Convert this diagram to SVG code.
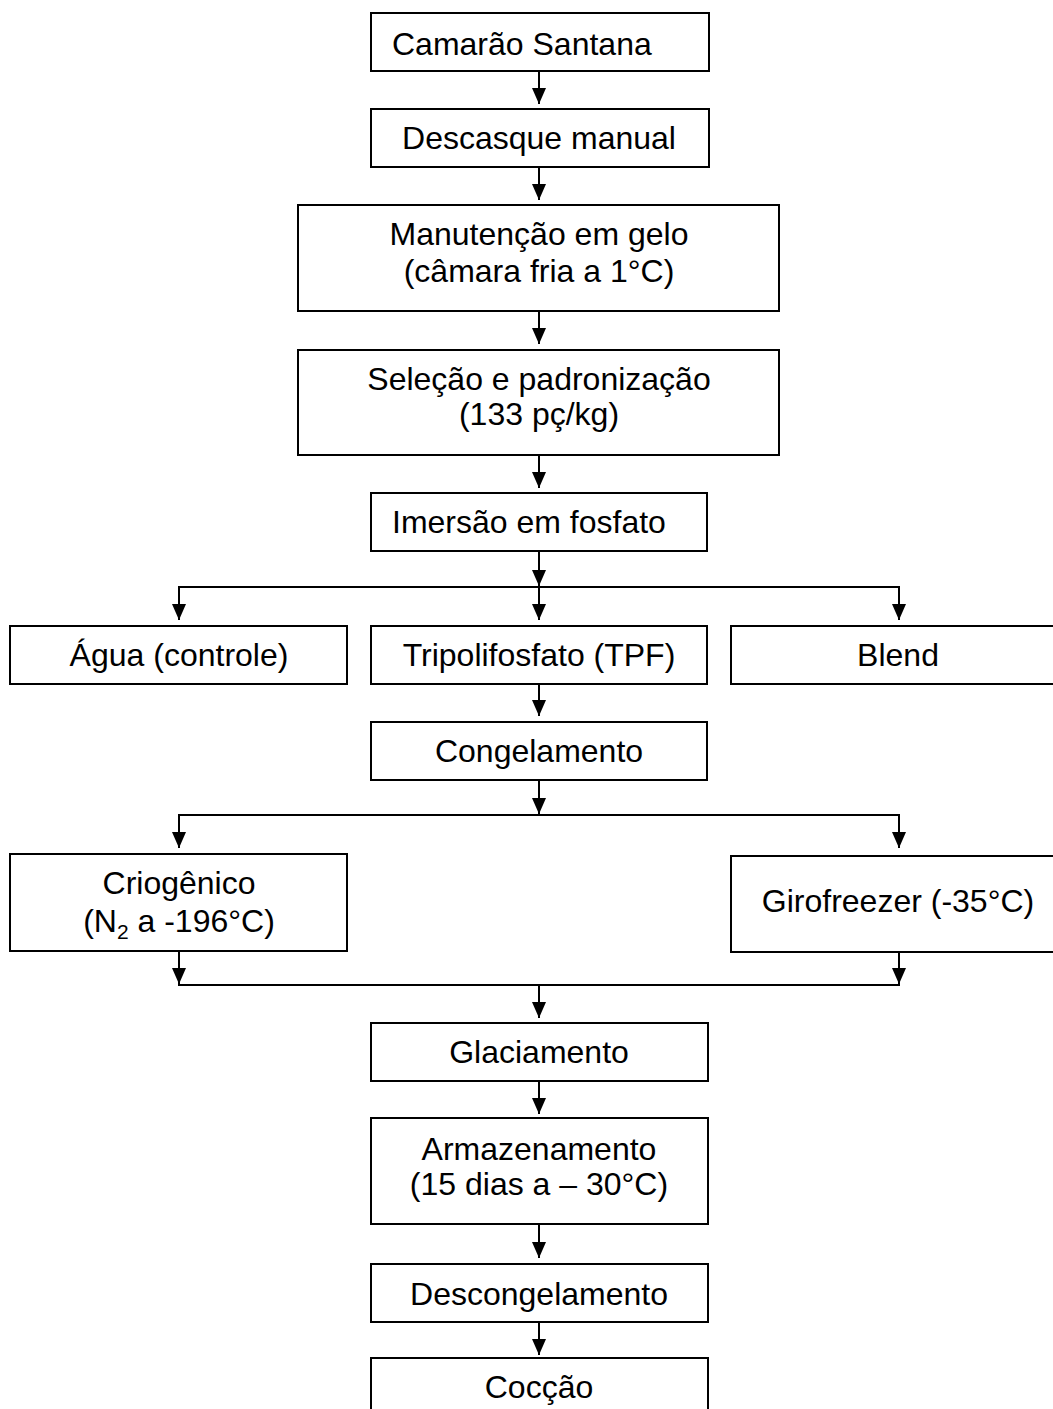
<svg xmlns="http://www.w3.org/2000/svg" width="1053" height="1409" viewBox="0 0 1053 1409">
<style>
.box{fill:#fff;stroke:#000;stroke-width:2}
.t{font-family:"Liberation Sans",Arial,sans-serif;font-size:32px;fill:#000;text-anchor:middle}
.ts{text-anchor:start}
.c{fill:none;stroke:#000;stroke-width:2}
</style>
<defs>
<marker id="ah" markerUnits="userSpaceOnUse" markerWidth="16" markerHeight="16" viewBox="0 0 16 16" refX="16" refY="8" orient="auto">
<path d="M0,1 L16,8 L0,15 Z" fill="#000"/>
</marker>
</defs>
<g id="connectors">
<line class="c" x1="539" y1="71" x2="539" y2="104" marker-end="url(#ah)"/>
<line class="c" x1="539" y1="167" x2="539" y2="200" marker-end="url(#ah)"/>
<line class="c" x1="539" y1="311" x2="539" y2="344" marker-end="url(#ah)"/>
<line class="c" x1="539" y1="455" x2="539" y2="488" marker-end="url(#ah)"/>
<line class="c" x1="539" y1="551" x2="539" y2="586" marker-end="url(#ah)"/>
<line class="c" x1="178" y1="587" x2="900" y2="587"/>
<line class="c" x1="179" y1="587" x2="179" y2="620" marker-end="url(#ah)"/>
<line class="c" x1="539" y1="587" x2="539" y2="620" marker-end="url(#ah)"/>
<line class="c" x1="899" y1="587" x2="899" y2="620" marker-end="url(#ah)"/>
<line class="c" x1="539" y1="684" x2="539" y2="716" marker-end="url(#ah)"/>
<line class="c" x1="539" y1="780" x2="539" y2="814" marker-end="url(#ah)"/>
<line class="c" x1="178" y1="815" x2="900" y2="815"/>
<line class="c" x1="179" y1="815" x2="179" y2="848" marker-end="url(#ah)"/>
<line class="c" x1="899" y1="815" x2="899" y2="848" marker-end="url(#ah)"/>
<line class="c" x1="179" y1="951" x2="179" y2="984" marker-end="url(#ah)"/>
<line class="c" x1="899" y1="952" x2="899" y2="984" marker-end="url(#ah)"/>
<line class="c" x1="178" y1="985" x2="900" y2="985"/>
<line class="c" x1="539" y1="985" x2="539" y2="1018" marker-end="url(#ah)"/>
<line class="c" x1="539" y1="1081" x2="539" y2="1114" marker-end="url(#ah)"/>
<line class="c" x1="539" y1="1224" x2="539" y2="1258" marker-end="url(#ah)"/>
<line class="c" x1="539" y1="1322" x2="539" y2="1355" marker-end="url(#ah)"/>
</g>
<g id="n1"><rect class="box" x="371" y="13" width="338" height="58"/><text class="t ts" x="392" y="55">Camarão Santana</text></g>
<g id="n2"><rect class="box" x="371" y="109" width="338" height="58"/><text class="t" x="539" y="149">Descasque manual</text></g>
<g id="n3"><rect class="box" x="298" y="205" width="481" height="106"/><text class="t" x="539" y="245">Manutenção em gelo</text><text class="t" x="539" y="282">(câmara fria a 1°C)</text></g>
<g id="n4"><rect class="box" x="298" y="350" width="481" height="105"/><text class="t" x="539" y="390">Seleção e padronização</text><text class="t" x="539" y="425">(133 pç/kg)</text></g>
<g id="n5"><rect class="box" x="371" y="493" width="336" height="58"/><text class="t ts" x="392" y="533">Imersão em fosfato</text></g>
<g id="n6"><rect class="box" x="10" y="626" width="337" height="58"/><text class="t" x="179" y="666">Água (controle)</text></g>
<g id="n7"><rect class="box" x="371" y="626" width="336" height="58"/><text class="t" x="539" y="666">Tripolifosfato (TPF)</text></g>
<g id="n8"><rect class="box" x="731" y="626" width="336" height="58"/><text class="t" x="898" y="666">Blend</text></g>
<g id="n9"><rect class="box" x="371" y="722" width="336" height="58"/><text class="t" x="539" y="762">Congelamento</text></g>
<g id="n10"><rect class="box" x="10" y="854" width="337" height="97"/><text class="t" x="179" y="894">Criogênico</text><text class="t" x="179" y="932">(N<tspan font-size="21" dy="7">2</tspan><tspan dy="-7"> a -196°C)</tspan></text></g>
<g id="n11"><rect class="box" x="731" y="856" width="336" height="96"/><text class="t" x="898" y="912">Girofreezer (-35°C)</text></g>
<g id="n12"><rect class="box" x="371" y="1023" width="337" height="58"/><text class="t" x="539" y="1063">Glaciamento</text></g>
<g id="n13"><rect class="box" x="371" y="1118" width="337" height="106"/><text class="t" x="539" y="1160">Armazenamento</text><text class="t" x="539" y="1195">(15 dias a – 30°C)</text></g>
<g id="n14"><rect class="box" x="371" y="1264" width="337" height="58"/><text class="t" x="539" y="1305">Descongelamento</text></g>
<g id="n15"><rect class="box" x="371" y="1358" width="337" height="70"/><text class="t" x="539" y="1398">Cocção</text></g>
</svg>
